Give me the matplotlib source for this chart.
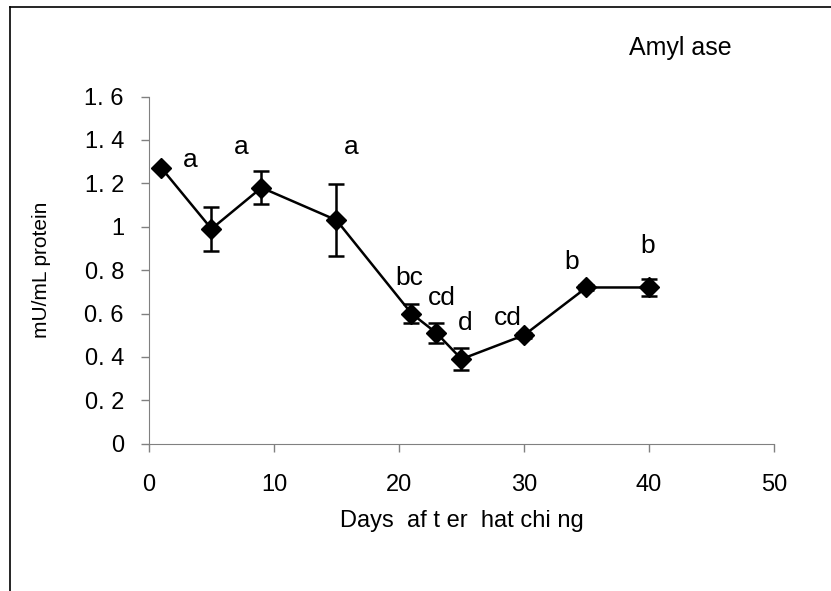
import matplotlib
matplotlib.use('Agg')
import matplotlib.pyplot as plt
from matplotlib.lines import Line2D

# amylase activity data
days = [1, 5, 9, 15, 21, 23, 25, 30, 35, 40]
activity = [1.27, 0.99, 1.18, 1.03, 0.60, 0.51, 0.39, 0.50, 0.72, 0.72]
sd = [0.0, 0.10, 0.077, 0.165, 0.043, 0.047, 0.052, 0.012, 0.012, 0.04]

# significance letters and their positions
letters = ['a', 'a', 'a', 'bc', 'cd', 'd', 'cd', 'b', 'b']
letter_x = [3.3, 7.4, 16.2, 20.8, 23.4, 25.3, 28.7, 33.8, 39.9]
letter_y = [1.307, 1.367, 1.367, 0.763, 0.671, 0.556, 0.579, 0.837, 0.911]

yticks = [0, 0.2, 0.4, 0.6, 0.8, 1.0, 1.2, 1.4, 1.6]
ytick_labels = ['0', '0. 2', '0. 4', '0. 6', '0. 8', '1', '1. 2', '1. 4', '1. 6']
xticks = [0, 10, 20, 30, 40, 50]

plt.rcParams['font.family'] = ['Liberation Sans', 'DejaVu Sans']

fig = plt.figure(figsize=(8.31, 5.91), dpi=100)
ax = fig.add_axes([0.1793, 0.2492, 0.7521, 0.5875])

ax.errorbar(days, activity, yerr=sd, color='black', lw=1.8, marker='D',
            markersize=10, capsize=6, elinewidth=1.8, capthick=1.8)

for t, x, y in zip(letters, letter_x, letter_y):
    ax.text(x, y, t, ha='center', va='center', fontsize=19)

ax.set_xlim(0, 50)
ax.set_ylim(0, 1.6)
ax.set_xticks(xticks)
ax.set_yticks(yticks)
ax.set_xticklabels([str(v) for v in xticks], fontsize=17)
ax.set_yticklabels(ytick_labels, fontsize=17)
ax.tick_params(direction='out', length=6, width=1, color='#808080')
ax.tick_params(axis='y', pad=12)
ax.tick_params(axis='x', pad=16)
for s in ['top', 'right']:
    ax.spines[s].set_visible(False)
for s in ['left', 'bottom']:
    ax.spines[s].set_color('#808080')

ax.set_xlabel('Days  af t er  hat chi ng', fontsize=17, labelpad=10)
ax.set_ylabel('mU/mL protein', fontsize=15, labelpad=24)

fig.text(0.819, 0.918, 'Amyl ase', fontsize=18, ha='center', va='center')

# frame lines (left and top only visible)
fig.add_artist(Line2D([0.012, 0.012], [0.0, 0.988], color='black', lw=1.2))
fig.add_artist(Line2D([0.012, 1.0], [0.988, 0.988], color='black', lw=1.2))

fig.savefig('out.png', dpi=100)
